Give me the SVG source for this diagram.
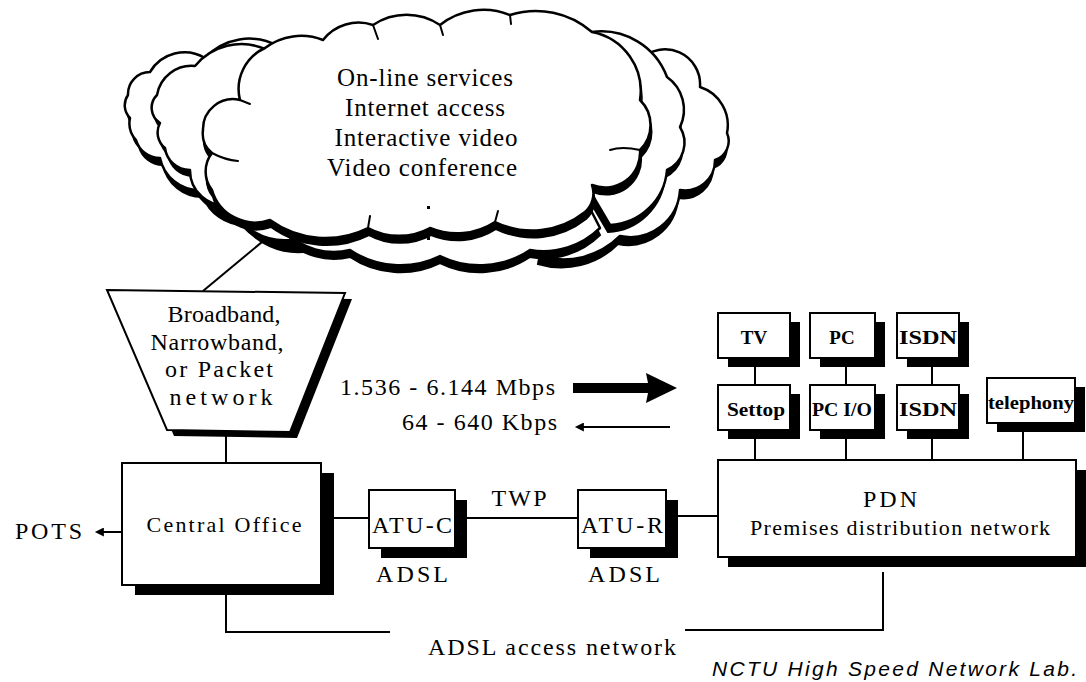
<svg xmlns="http://www.w3.org/2000/svg" width="1086" height="682" viewBox="0 0 1086 682">
  <style>
    .bg { fill: #fff; }
    .ln { stroke: #000; stroke-width: 2; fill: none; }
    .box { fill: #fff; stroke: #000; stroke-width: 2; }
    .shadow { fill: #000; stroke: none; }
    .cl { fill: #fff; stroke: #000; stroke-width: 2.5; stroke-linejoin: round; }
    .csh { fill: #000; stroke: #000; stroke-width: 2; }
    .crease { fill: none; stroke: #000; stroke-width: 2; stroke-linecap: round; }
    .t { font-family: "Liberation Serif", "Times New Roman", serif; fill: #000; }
    .lg { font-size: 25px; }
    .md { font-size: 24px; }
    .sm { font-size: 22px; }
    .dev { font-size: 19px; font-weight: bold; }
    .credit { font-family: "Liberation Sans", Arial, sans-serif; font-style: italic; font-size: 21px; fill: #000; }
  </style>
  <defs>
    <!-- cloud layers, back to front; each is a scalloped outline -->
    <path id="cloudL1" d="M 300,245 A 70 70 0 0 1 240,218 A 45 45 0 0 1 200,190 A 40 40 0 0 1 160,158 A 25 25 0 0 1 136,140 A 25 25 0 0 1 130,118 A 18 18 0 0 1 128,95 A 22 22 0 0 1 150,72 A 40 40 0 0 1 205,58 A 60 60 0 0 1 278,46 L 330,120 Z"/>
    <path id="cloudR2" d="M 640,60 A 35 35 0 0 1 700,87 A 40 40 0 0 1 727,133 A 20 20 0 0 1 715,160 A 30 30 0 0 1 680,190 A 50 50 0 0 1 620,236 A 80 80 0 0 1 540,256 L 560,150 Z"/>
    <path id="cloudB" d="M 560,150 L 600,228 A 80 80 0 0 1 530,250 A 90 90 0 0 1 440,256 A 90 90 0 0 1 350,250 A 70 70 0 0 1 285,232 L 330,150 Z"/>
    <path id="cloudL2" d="M 290,240 A 60 60 0 0 1 230,205 A 35 35 0 0 1 190,170 A 25 25 0 0 1 165,148 A 20 20 0 0 1 160,123 A 18 18 0 0 1 157,95 A 35 35 0 0 1 195,66 A 60 60 0 0 1 265,49 L 330,130 Z"/>
    <path id="cloudR1" d="M 592,32 A 70 70 0 0 1 667,77 A 40 40 0 0 1 680,127 A 30 30 0 0 1 667,170 A 60 60 0 0 1 610,225 L 560,140 Z"/>
    <path id="cloudF" d="M 265,48 A 60 60 0 0 1 323,40 A 45 45 0 0 1 373,25 A 60 60 0 0 1 440,25 A 70 70 0 0 1 510,15 A 85 85 0 0 1 592,32 A 60 60 0 0 1 640,100 A 35 35 0 0 1 640,150 A 35 35 0 0 1 592,185 A 25 25 0 0 1 585,212 A 85 85 0 0 1 495,222 A 70 70 0 0 1 430,228 A 65 65 0 0 1 368,228 A 95 95 0 0 1 270,220 A 45 45 0 0 1 212,190 A 30 30 0 0 1 212,153 A 25 25 0 0 1 203,130 A 30 30 0 0 1 240,100 A 45 45 0 0 1 265,48 Z"/>
    <marker id="headThin" viewBox="0 0 10 10" refX="1" refY="5" markerWidth="10" markerHeight="9" markerUnits="userSpaceOnUse" orient="auto-start-reverse">
      <path d="M0,0 L10,5 L0,10 Z" fill="#000"/>
    </marker>
  </defs>

  <rect class="bg" x="0" y="0" width="1086" height="682"/>

  <!-- connectors -->
  <g id="connectors">
    <line class="ln" x1="274" y1="232" x2="203" y2="291"/>
    <line class="ln" x1="226" y1="436" x2="226" y2="463"/>
    <line class="ln" x1="333" y1="518" x2="369" y2="518"/>
    <line class="ln" x1="465" y1="518" x2="578" y2="518"/>
    <line class="ln" x1="678" y1="516" x2="718" y2="516"/>
    <line class="ln" x1="755" y1="360" x2="755" y2="385"/>
    <line class="ln" x1="846" y1="360" x2="846" y2="385"/>
    <line class="ln" x1="932" y1="358" x2="932" y2="385"/>
    <line class="ln" x1="755" y1="437" x2="755" y2="460"/>
    <line class="ln" x1="846" y1="437" x2="846" y2="460"/>
    <line class="ln" x1="932" y1="437" x2="932" y2="460"/>
    <line class="ln" x1="1023" y1="430" x2="1023" y2="460"/>
    <!-- POTS feed -->
    <line class="ln" x1="122" y1="532" x2="103" y2="532" marker-end="url(#headThin)"/>
  </g>

  <!-- cloud of services -->
  <g id="cloud">
    <use href="#cloudL1" class="csh" transform="translate(3,7)"/>
    <use href="#cloudL1" class="cl"/>
    <use href="#cloudR2" class="csh" transform="translate(-2,8)"/>
    <use href="#cloudR2" class="cl"/>
    <use href="#cloudB" class="csh" transform="translate(0,7)"/>
    <use href="#cloudB" class="cl"/>
    <use href="#cloudL2" class="csh" transform="translate(3,6)"/>
    <use href="#cloudL2" class="cl"/>
    <use href="#cloudR1" class="csh" transform="translate(-2,7)"/>
    <use href="#cloudR1" class="cl"/>
    <use href="#cloudF" class="csh" transform="translate(1,7)"/>
    <use href="#cloudF" class="cl"/>
    <!-- creases where the lobes meet -->
    <path class="crease" d="M 373,25 L 378,39"/>
    <path class="crease" d="M 440,25 L 443,35"/>
    <path class="crease" d="M 510,15 L 511,24"/>
    <path class="crease" d="M 640,150 Q 622,146 610,150"/>
    <path class="crease" d="M 495,222 L 498,211"/>
    <path class="crease" d="M 368,228 L 370,216"/>
    <path class="crease" d="M 212,153 Q 225,160 238,161"/>
    <path class="crease" d="M 240,100 L 250,104"/>
    <text class="t lg" x="425" y="86" text-anchor="middle" textLength="176">On-line services</text>
    <text class="t lg" x="425" y="116" text-anchor="middle" textLength="160">Internet access</text>
    <text class="t lg" x="426" y="146" text-anchor="middle" textLength="183">Interactive video</text>
    <text class="t lg" x="422" y="176" text-anchor="middle" textLength="190">Video conference</text>
    <rect x="427" y="206" width="3" height="3" fill="#000"/>
    <rect x="427" y="237" width="3" height="3" fill="#000"/>
  </g>

  <!-- backbone network -->
  <g id="backbone">
    <polygon class="shadow" points="107,290 345,293 290,432 167,430" transform="translate(7,6)"/>
    <polygon class="box" points="107,290 345,293 290,432 167,430"/>
    <text class="t md" x="224" y="322" text-anchor="middle" textLength="113">Broadband,</text>
    <text class="t md" x="217" y="350" text-anchor="middle" textLength="133">Narrowband,</text>
    <text class="t md" x="219" y="377" text-anchor="middle" textLength="108">or Packet</text>
    <text class="t md" x="221" y="405" text-anchor="middle" textLength="103">network</text>
  </g>

  <!-- rates -->
  <g id="rates">
    <text class="t md" x="340" y="395" textLength="215">1.536 - 6.144 Mbps</text>
    <text class="t md" x="402" y="430" textLength="155">64 - 640 Kbps</text>
    <path d="M573,383 L648,383 L646,373 L677,388 L646,403 L648,393 L573,393 Z" fill="#000"/>
    <line class="ln" x1="670" y1="427" x2="583" y2="427" stroke-width="3" marker-end="url(#headThin)"/>
  </g>

  <g id="pots">
    <text class="t md" x="15" y="539" textLength="67">POTS</text>
  </g>

  <g id="central-office">
    <rect class="shadow" x="135" y="473" width="199" height="122"/>
    <rect class="box" x="122" y="463" width="199" height="122"/>
    <text class="t sm" x="224" y="532" text-anchor="middle" textLength="155">Central Office</text>
  </g>

  <g id="atu-c">
    <rect class="shadow" x="381" y="500" width="86" height="58"/>
    <rect class="box" x="369" y="490" width="86" height="58"/>
    <text class="t md" x="412" y="533" text-anchor="middle" textLength="80">ATU-C</text>
    <text class="t md" x="412" y="582" text-anchor="middle" textLength="72">ADSL</text>
  </g>

  <g id="twp">
    <text class="t md" x="519" y="506" text-anchor="middle" textLength="55">TWP</text>
  </g>

  <g id="atu-r">
    <rect class="shadow" x="590" y="500" width="88" height="58"/>
    <rect class="box" x="578" y="490" width="88" height="58"/>
    <text class="t md" x="622" y="533" text-anchor="middle" textLength="82">ATU-R</text>
    <text class="t md" x="624" y="582" text-anchor="middle" textLength="72">ADSL</text>
  </g>

  <g id="pdn">
    <rect class="shadow" x="728" y="470" width="358" height="97"/>
    <rect class="box" x="718" y="460" width="358" height="97"/>
    <text class="t md" x="890" y="507" text-anchor="middle" textLength="54">PDN</text>
    <text class="t sm" x="900" y="535" text-anchor="middle" textLength="300">Premises distribution network</text>
  </g>

  <g id="tv">
    <rect class="shadow" x="728" y="322" width="72" height="45"/>
    <rect class="box" x="718" y="313" width="72" height="45"/>
    <text class="t dev" x="754" y="344" text-anchor="middle">TV</text>
  </g>
  <g id="pc">
    <rect class="shadow" x="820" y="322" width="65" height="45"/>
    <rect class="box" x="810" y="313" width="65" height="45"/>
    <text class="t dev" x="842" y="344" text-anchor="middle">PC</text>
  </g>
  <g id="isdn-1">
    <rect class="shadow" x="907" y="322" width="62" height="45"/>
    <rect class="box" x="897" y="313" width="62" height="45"/>
    <text class="t dev" x="928" y="344" text-anchor="middle" textLength="58" lengthAdjust="spacingAndGlyphs">ISDN</text>
  </g>
  <g id="settop">
    <rect class="shadow" x="728" y="394" width="72" height="45"/>
    <rect class="box" x="718" y="385" width="72" height="45"/>
    <text class="t dev" x="756" y="416" text-anchor="middle" textLength="58" lengthAdjust="spacingAndGlyphs">Settop</text>
  </g>
  <g id="pc-io">
    <rect class="shadow" x="820" y="394" width="65" height="45"/>
    <rect class="box" x="810" y="385" width="65" height="45"/>
    <text class="t dev" x="842" y="416" text-anchor="middle" textLength="60" lengthAdjust="spacingAndGlyphs">PC I/O</text>
  </g>
  <g id="isdn-2">
    <rect class="shadow" x="907" y="394" width="62" height="45"/>
    <rect class="box" x="897" y="385" width="62" height="45"/>
    <text class="t dev" x="928" y="416" text-anchor="middle" textLength="58" lengthAdjust="spacingAndGlyphs">ISDN</text>
  </g>
  <g id="telephony">
    <rect class="shadow" x="997" y="387" width="88" height="45"/>
    <rect class="box" x="987" y="378" width="88" height="45"/>
    <text class="t dev" x="1031" y="409" text-anchor="middle" textLength="86" lengthAdjust="spacingAndGlyphs">telephony</text>
  </g>

  <!-- extent of the access network -->
  <g id="access-bracket">
    <polyline class="ln" points="226,592 226,632 390,632"/>
    <polyline class="ln" points="685,630 883,630 883,572"/>
    <text class="t md" x="428" y="655" textLength="248">ADSL access network</text>
  </g>

  <g id="credit">
    <text class="credit" x="712" y="676" textLength="365">NCTU High Speed Network Lab.</text>
  </g>
</svg>
